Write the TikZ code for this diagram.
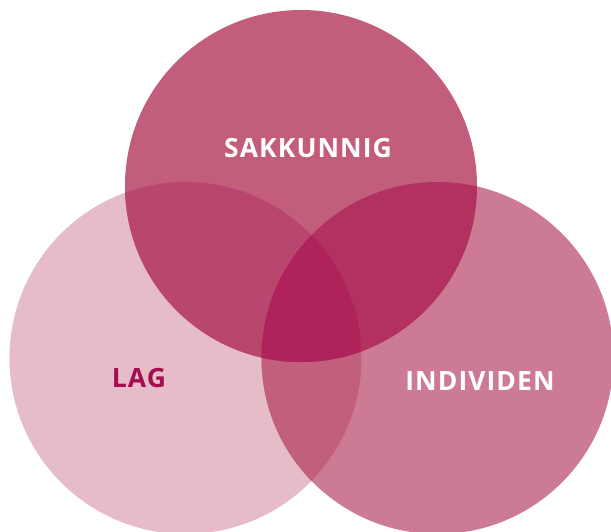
\documentclass[tikz,border=0pt]{standalone}
\usepackage{fontspec}
\newfontfamily\labfont{Open Sans}[LetterSpace=4]
\definecolor{cT}{HTML}{C25D7B}
\definecolor{cL}{HTML}{E5BCC8}
\definecolor{cR}{HTML}{CD7B95}
\definecolor{cTL}{HTML}{B9466E}
\definecolor{cTR}{HTML}{B33160}
\definecolor{cLR}{HTML}{C15F7D}
\definecolor{cTLR}{HTML}{AF235A}
\definecolor{cLag}{HTML}{A50D50}
\tikzset{
  lab/.style={font=\labfont\bfseries\fontsize{26.5}{29}\selectfont, inner sep=0pt, anchor=center},
}
\begin{document}
\begin{tikzpicture}[x=1pt,y=-1pt]
\useasboundingbox (0,0) rectangle (611,531);
\clip (0,0) rectangle (611,531);
\coordinate (t) at (301,186);
\coordinate (l) at (185.5,358);
\coordinate (r) at (437.5,358);
\def\rad{176}
\fill[cL] (l) circle (\rad);
\fill[cR] (r) circle (\rad);
\fill[cT] (t) circle (\rad);
\begin{scope}
  \clip (l) circle (\rad);
  \fill[cLR] (r) circle (\rad);
\end{scope}
\begin{scope}
  \clip (t) circle (\rad);
  \fill[cTL] (l) circle (\rad);
\end{scope}
\begin{scope}
  \clip (t) circle (\rad);
  \fill[cTR] (r) circle (\rad);
\end{scope}
\begin{scope}
  \clip (t) circle (\rad);
  \clip (l) circle (\rad);
  \fill[cTLR] (r) circle (\rad);
\end{scope}
\node[lab, text=white] (sak) at (308,148.5) {SAKKUNNIG};
\node[lab, text=cLag] (lag) at (139,378.5) {LAG};
\node[lab, text=white] (ind) at (480,381.5) {INDIVIDEN};
\end{tikzpicture}
\end{document}
